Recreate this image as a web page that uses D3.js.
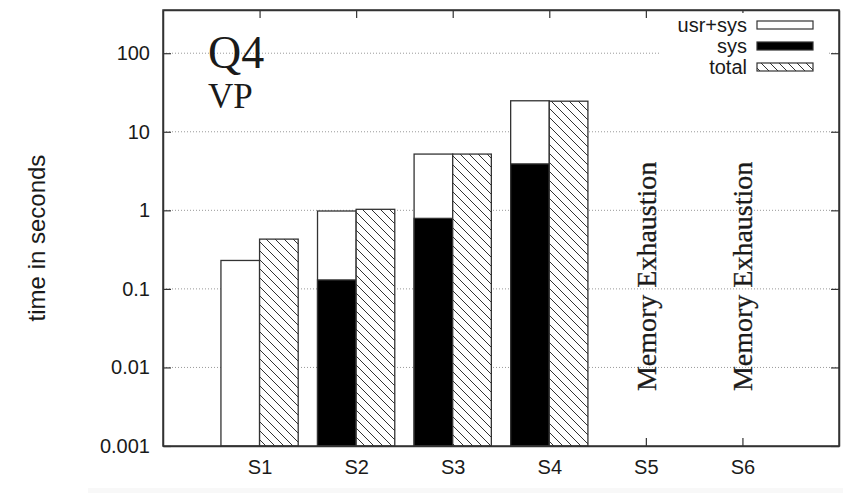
<!DOCTYPE html>
<html>
<head>
<meta charset="utf-8">
<script src="https://cdn.jsdelivr.net/npm/d3@7"></script>
<style>
  body { margin: 0; background: #fff; }
  text { fill: #1a1a1a; }
</style>
</head>
<body>
<svg id="chart" width="843" height="493"></svg>
<script>
// values (seconds, log scale)
const categories = ['S1', 'S2', 'S3', 'S4', 'S5', 'S6'];
const usrSys = [0.23, 0.98, 5.2, 24.8, null, null];
const sys = [null, 0.13, 0.79, 3.9, null, null];
const total = [0.43, 1.03, 5.2, 24.5, null, null];
const yTicks = [0.001, 0.01, 0.1, 1, 10, 100];
const failed = ['S5', 'S6'];
const failLabel = 'Memory Exhaustion';

const svg = d3.select('#chart');
const margin = { top: 10, right: 4, bottom: 47, left: 163 };
const width = +svg.attr('width');
const height = +svg.attr('height');
const chartWidth = width - margin.left - margin.right;
const chartHeight = height - margin.top - margin.bottom;

// faint strip under the picture
svg.append('rect')
    .attr('x', 88).attr('y', 488).attr('width', width - 88).attr('height', 5)
    .attr('fill', '#f8f8f8');

const defs = svg.append('defs');
const hatch = defs.append('pattern')
    .attr('id', 'hatch')
    .attr('patternUnits', 'userSpaceOnUse')
    .attr('width', 9).attr('height', 9);
hatch.append('rect').attr('width', 9).attr('height', 9).attr('fill', '#fff');
hatch.append('path')
    .attr('d', 'M-2,-2 L11,11 M-2,7 L2,11 M7,-2 L11,2')
    .attr('stroke', '#333').attr('stroke-width', 1);

const g = svg.append('g')
    .attr('transform', `translate(${margin.left},${margin.top})`);

const x = d3.scalePoint()
    .domain(categories)
    .range([0, chartWidth])
    .padding(1);

const y = d3.scaleLog()
    .domain([0.001, Math.pow(10, 2.55)])
    .range([chartHeight, 0]);

const barW = x.step() * 0.4;

// grid
g.append('g')
  .selectAll('line')
  .data(yTicks.slice(1))
  .join('line')
    .attr('x1', 0).attr('x2', chartWidth)
    .attr('y1', d => y(d)).attr('y2', d => y(d))
    .attr('stroke', '#999')
    .attr('stroke-width', 1)
    .attr('stroke-dasharray', '1,2');

// axes with inward ticks
const fmt = d => (d >= 1 ? d3.format('d')(d) : d3.format('')(d));
g.append('g')
    .call(d3.axisLeft(y).tickValues(yTicks).tickFormat(fmt).tickSizeInner(-8).tickSizeOuter(0).tickPadding(13))
    .call(ax => ax.selectAll('text').attr('font-family', 'Liberation Sans, Arial, sans-serif').attr('font-size', 20));
g.append('g')
    .attr('transform', `translate(${chartWidth},0)`)
    .call(d3.axisRight(y).tickValues(yTicks).tickFormat('').tickSizeInner(-8).tickSizeOuter(0));
g.append('g')
    .attr('transform', `translate(0,${chartHeight})`)
    .call(d3.axisBottom(x).tickSizeInner(-8).tickSizeOuter(0).tickPadding(14))
    .call(ax => ax.selectAll('text').attr('font-family', 'Liberation Sans, Arial, sans-serif').attr('font-size', 20));
g.append('g')
    .call(d3.axisTop(x).tickFormat('').tickSizeInner(-8).tickSizeOuter(0));
g.selectAll('.domain').attr('stroke', '#333').attr('stroke-width', 1.5);
g.selectAll('.tick line').attr('stroke', '#333').attr('stroke-width', 1.2);

// bars
const rows = categories.map((c, i) => ({ c, usrSys: usrSys[i], sys: sys[i], total: total[i] }));
const base = y.domain()[0];

g.append('g').selectAll('rect')
  .data(rows.filter(d => d.usrSys != null))
  .join('rect')
    .attr('x', d => x(d.c) - barW)
    .attr('y', d => y(d.usrSys))
    .attr('width', barW)
    .attr('height', d => y(base) - y(d.usrSys))
    .attr('fill', '#fff')
    .attr('stroke', '#333')
    .attr('stroke-width', 1.3);

g.append('g').selectAll('rect')
  .data(rows.filter(d => d.sys != null))
  .join('rect')
    .attr('x', d => x(d.c) - barW)
    .attr('y', d => y(d.sys))
    .attr('width', barW)
    .attr('height', d => y(base) - y(d.sys))
    .attr('fill', '#000')
    .attr('stroke', '#333')
    .attr('stroke-width', 1.3);

g.append('g').selectAll('rect')
  .data(rows.filter(d => d.total != null))
  .join('rect')
    .attr('x', d => x(d.c))
    .attr('y', d => y(d.total))
    .attr('width', barW)
    .attr('height', d => y(base) - y(d.total))
    .attr('fill', 'url(#hatch)')
    .attr('stroke', '#333')
    .attr('stroke-width', 1.3);

// memory exhaustion notes
g.append('g').selectAll('text')
  .data(failed)
  .join('text')
    .attr('transform', d => `translate(${x(d) + 10},${y(0.005)}) rotate(-90)`)
    .attr('font-family', 'Liberation Serif, Times New Roman, serif')
    .attr('font-size', 28)
    .attr('stroke', '#1a1a1a').attr('stroke-width', 0.3)
    .text(failLabel);

// frame
g.append('rect')
    .attr('width', chartWidth).attr('height', chartHeight)
    .attr('fill', 'none').attr('stroke', '#333').attr('stroke-width', 1.5);

// titles
g.append('text')
    .attr('x', 45).attr('y', 58)
    .attr('font-family', 'Liberation Serif, Times New Roman, serif')
    .attr('font-size', 46)
    .text('Q4');
g.append('text')
    .attr('x', 45).attr('y', 98)
    .attr('font-family', 'Liberation Serif, Times New Roman, serif')
    .attr('font-size', 35)
    .text('VP');

svg.append('text')
    .attr('transform', `translate(45,${margin.top + chartHeight / 2 + 10}) rotate(-90)`)
    .attr('text-anchor', 'middle')
    .attr('font-family', 'Liberation Sans, Arial, sans-serif')
    .attr('font-size', 24)
    .text('time in seconds');

// legend (svg coordinates)
const keys = [
  { label: 'usr+sys', fill: '#fff' },
  { label: 'sys', fill: '#000' },
  { label: 'total', fill: 'url(#hatch)' }
];
const legend = svg.append('g');
legend.append('rect')
    .attr('x', 660).attr('y', 13).attr('width', 168).attr('height', 66)
    .attr('fill', '#fff');
const item = legend.selectAll('g.key')
  .data(keys)
  .join('g')
    .attr('class', 'key')
    .attr('transform', (d, i) => `translate(0,${25 + i * 21})`);
item.append('text')
    .attr('x', 747)
    .attr('dy', '0.35em')
    .attr('text-anchor', 'end')
    .attr('font-family', 'Liberation Sans, Arial, sans-serif')
    .attr('font-size', 20)
    .text(d => d.label);
item.append('rect')
    .attr('x', 757)
    .attr('y', -4)
    .attr('width', 56).attr('height', 8)
    .attr('fill', d => d.fill)
    .attr('stroke', '#333').attr('stroke-width', 1.2);
</script>
</body>
</html>
